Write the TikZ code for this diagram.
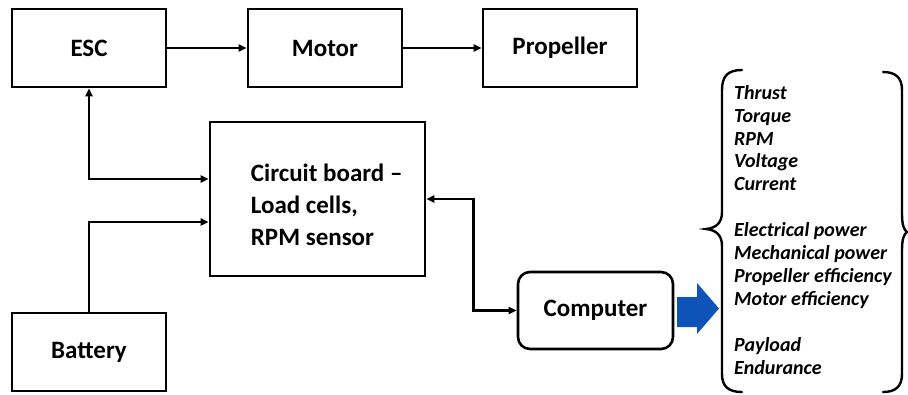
\documentclass[tikz,border=0pt]{standalone}
\usepackage{fontspec}
\setmainfont{Carlito}
\usetikzlibrary{arrows.meta,positioning,calc}
\definecolor{arrblue}{RGB}{14,84,184}

\begin{document}
\begin{tikzpicture}[x=1pt, y=-1pt,
    blk/.style={draw, line width=2.6pt, minimum width=154pt, minimum height=78pt, inner sep=0pt, align=center, font=\fontsize{25}{29}\selectfont\bfseries},
    rblk/.style={blk, rounded corners=12pt, minimum width=155pt, minimum height=77pt},
    txt/.style={inner sep=0pt, anchor=west, align=left, font=\fontsize{25}{32}\selectfont\bfseries},
    arr/.style={-{Triangle[length=8pt,width=7pt]}, line width=2.4pt},
    darr/.style={{Triangle[length=8pt,width=7pt]}-{Triangle[length=8pt,width=7pt]}, line width=2.4pt},
    lst/.style={inner sep=0pt, anchor=north west, align=left, font=\fontsize{20}{22.9}\selectfont\bfseries\itshape},
    brc/.style={line width=2.4pt, line cap=round}
]
\useasboundingbox (0,0) rectangle (908,394);

\node[blk] (esc) at (89,48) {ESC};
\node[blk] (motor) at (325,48) {Motor};
\node[blk] (prop) at (560,48) {Propeller};
\node[blk, minimum width=215pt, minimum height=154pt] (cb) at (317.5,199) {};
\node[txt] (cbt) at ([xshift=42pt, yshift=-6pt]cb.west) {Circuit board --\\Load cells,\\RPM sensor};
\node[blk] (bat) at (89,352) {Battery};
\node[rblk] (comp) at (595.5,310.5) {Computer};

\draw[arr] (esc) -- (motor);
\draw[arr] (motor) -- (prop);
\draw[darr] (esc.south) |- ([yshift=20pt]cb.west);
\draw[arr] (bat.north) |- ([yshift=-23pt]cb.west);
\draw[darr] (cb.east) -- ++(47,0) |- (comp.west);

% blue output arrow
\fill[arrblue] (677,297) -- (697,297) -- (697,283) -- (719,308.5) -- (697,334) -- (697,327) -- (677,327) -- cycle;

% braces
\draw[brc] (742,70) .. controls (728,70) and (722,76) .. (722,90) -- (722,212)
  .. controls (722,223) and (716,228) .. (706,229) .. controls (716,230) and (722,235) .. (722,246)
  -- (722,374) .. controls (722,386) and (728,392) .. (742,392);
\draw[brc] (883,72) .. controls (896,72) and (902,78) .. (902,90) -- (902,214)
  .. controls (902,225) and (904,230) .. (907,232) .. controls (904,234) and (902,239) .. (902,250)
  -- (902,374) .. controls (902,386) and (896,392) .. (883,392);

\node[lst] (vals) at (734,85) {Thrust\\Torque\\RPM\\Voltage\\Current\\[22.9pt]Electrical power\\Mechanical power\\Propeller efficiency\\Motor efficiency\\[22.9pt]Payload\\Endurance};
\end{tikzpicture}
\end{document}
